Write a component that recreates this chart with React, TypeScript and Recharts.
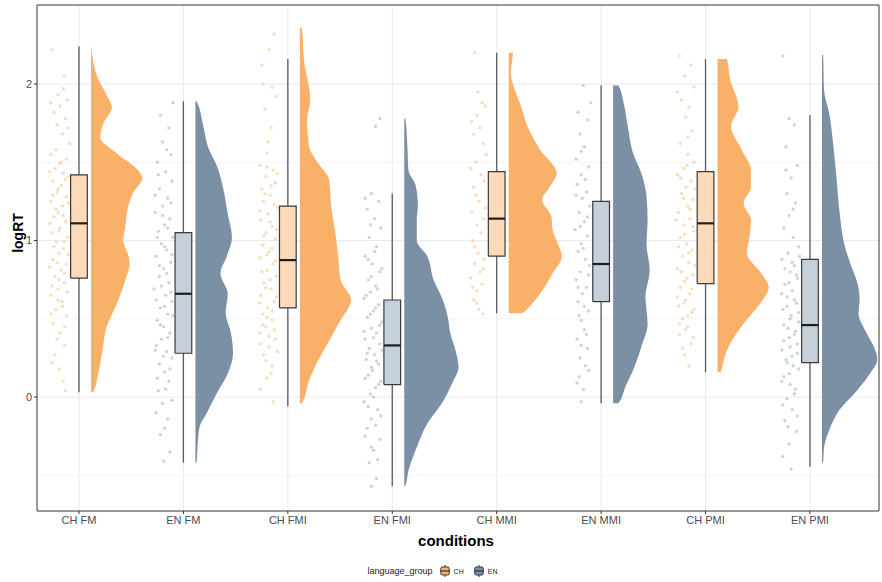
import React from "react";
import { ScatterChart, Scatter, XAxis, YAxis, CartesianGrid, ReferenceArea, Legend } from "recharts";

// conditions on the x axis and the language group of each
const conditions = ["CH FM", "EN FM", "CH FMI", "EN FMI", "CH MMI", "EN MMI", "CH PMI", "EN PMI"];
const groupOf = ["CH", "EN", "CH", "EN", "CH", "EN", "CH", "EN"];
const yTicks = [0, 1, 2];

// boxplot stats (logRT)
const whiskerLow = [0.03, -0.42, -0.06, -0.57, 0.535, -0.04, 0.16, -0.445];
const q1 = [0.76, 0.28, 0.57, 0.08, 0.9, 0.61, 0.725, 0.22];
const median = [1.11, 0.66, 0.875, 0.33, 1.14, 0.85, 1.11, 0.46];
const q3 = [1.42, 1.05, 1.22, 0.62, 1.44, 1.25, 1.44, 0.88];
const whiskerHigh = [2.24, 1.89, 2.16, 1.3, 2.2, 1.99, 2.16, 1.8];

// half violin outlines: [logRT, scaled density]
const chFmDensity = [
  [0.03, 0.02], [0.15, 0.07], [0.3, 0.11], [0.45, 0.15], [0.6, 0.25], [0.75, 0.33], [0.85, 0.37],
  [0.9, 0.36], [1.0, 0.31], [1.1, 0.33], [1.2, 0.35], [1.3, 0.4], [1.4, 0.49], [1.45, 0.45],
  [1.55, 0.26], [1.66, 0.09], [1.75, 0.12], [1.85, 0.2], [1.93, 0.15], [2.03, 0.07], [2.15, 0.02], [2.25, 0.0],
];
const enFmDensity = [
  [-0.42, 0.01], [-0.32, 0.02], [-0.19, 0.04], [-0.1, 0.11], [0.03, 0.21], [0.15, 0.31], [0.28, 0.36],
  [0.41, 0.34], [0.54, 0.29], [0.66, 0.31], [0.79, 0.24], [0.9, 0.3], [1.02, 0.35], [1.17, 0.31],
  [1.32, 0.27], [1.47, 0.21], [1.6, 0.12], [1.75, 0.07], [1.89, 0.01],
];
const chFmiDensity = [
  [-0.04, 0.02], [0.11, 0.09], [0.24, 0.18], [0.36, 0.28], [0.49, 0.39], [0.62, 0.49], [0.75, 0.39],
  [0.875, 0.37], [1.05, 0.34], [1.22, 0.3], [1.39, 0.28], [1.49, 0.18], [1.6, 0.09], [1.77, 0.07],
  [1.9, 0.1], [2.15, 0.04], [2.36, 0.02],
];
const enFmiDensity = [
  [-0.57, 0.01], [-0.47, 0.04], [-0.32, 0.12], [-0.17, 0.22], [-0.04, 0.36], [0.09, 0.46], [0.19, 0.52],
  [0.3, 0.49], [0.41, 0.44], [0.5, 0.42], [0.62, 0.37], [0.75, 0.28], [0.9, 0.22], [1.0, 0.12],
  [1.13, 0.12], [1.22, 0.13], [1.35, 0.11], [1.45, 0.04], [1.6, 0.03], [1.78, 0.01],
];
const chMmiDensity = [
  [0.535, 0.12], [0.58, 0.2], [0.66, 0.3], [0.79, 0.42], [0.9, 0.51], [0.98, 0.47], [1.07, 0.42],
  [1.15, 0.41], [1.26, 0.32], [1.34, 0.39], [1.43, 0.46], [1.58, 0.3], [1.73, 0.18], [1.855, 0.12],
  [2.0, 0.04], [2.07, 0.02], [2.2, 0.04],
];
const enMmiDensity = [
  [-0.04, 0.05], [0.07, 0.12], [0.17, 0.19], [0.32, 0.27], [0.47, 0.33], [0.64, 0.31], [0.81, 0.35],
  [0.98, 0.32], [1.13, 0.33], [1.28, 0.32], [1.43, 0.27], [1.56, 0.19], [1.73, 0.14], [1.88, 0.1], [1.99, 0.05],
];
const chPmiDensity = [
  [0.16, 0.03], [0.24, 0.06], [0.34, 0.12], [0.47, 0.25], [0.6, 0.41], [0.7, 0.49], [0.79, 0.42],
  [0.92, 0.28], [1.0, 0.3], [1.13, 0.32], [1.24, 0.25], [1.34, 0.32], [1.45, 0.32], [1.58, 0.23],
  [1.73, 0.13], [1.855, 0.2], [2.03, 0.12], [2.16, 0.09],
];
const enPmiDensity = [
  [-0.42, 0.01], [-0.32, 0.02], [-0.21, 0.07], [-0.08, 0.17], [0.045, 0.34], [0.15, 0.46], [0.24, 0.53],
  [0.3, 0.51], [0.43, 0.41], [0.53, 0.35], [0.62, 0.36], [0.725, 0.34], [0.855, 0.27], [0.96, 0.22],
  [1.17, 0.17], [1.39, 0.14], [1.6, 0.11], [1.81, 0.07], [1.96, 0.02], [2.185, 0.01],
];
const densities = [chFmDensity, enFmDensity, chFmiDensity, enFmiDensity, chMmiDensity, enMmiDensity, chPmiDensity, enPmiDensity];

// raw observations: [jitter offset, logRT]
const chFmPts = [
  [-0.26, 2.22], [-0.14, 2.05], [-0.2, 1.93], [-0.11, 1.9], [-0.18, 1.86], [-0.24, 1.82], [-0.13, 1.78], [-0.21, 1.74], [-0.16, 1.68],
  [-0.27, 1.55], [-0.12, 1.52], [-0.19, 1.49], [-0.23, 1.46], [-0.15, 1.43], [-0.1, 1.41], [-0.25, 1.38], [-0.17, 1.35], [-0.21, 1.31],
  [-0.12, 1.28], [-0.27, 1.25], [-0.16, 1.22], [-0.2, 1.18], [-0.24, 1.15], [-0.13, 1.12], [-0.18, 1.08], [-0.26, 1.05], [-0.11, 1.02],
  [-0.22, 0.99], [-0.15, 0.95], [-0.19, 0.92], [-0.25, 0.88], [-0.12, 0.85], [-0.17, 0.81], [-0.23, 0.77], [-0.14, 0.73], [-0.2, 0.69],
  [-0.27, 0.65], [-0.16, 0.61], [-0.22, 0.56], [-0.12, 0.52], [-0.25, 0.47], [-0.18, 0.41], [-0.14, 0.33], [-0.23, 0.27], [-0.19, 0.18],
  [-0.15, 0.1], [-0.13, 0.04],
  [-0.09, 1.62], [-0.22, 1.58], [-0.17, 1.5], [-0.28, 1.44], [-0.13, 1.39], [-0.2, 1.33], [-0.25, 1.29], [-0.1, 1.24], [-0.22, 1.2],
  [-0.15, 1.16], [-0.28, 1.11], [-0.19, 1.06], [-0.14, 0.99], [-0.24, 0.96], [-0.1, 0.91], [-0.21, 0.86], [-0.28, 0.83], [-0.14, 0.79],
  [-0.19, 0.75], [-0.26, 0.71], [-0.11, 0.67], [-0.2, 0.62], [-0.16, 0.58], [-0.27, 0.53], [-0.14, 0.45], [-0.21, 0.37], [-0.26, 0.22],
  [-0.1, 1.72], [-0.27, 1.88], [-0.15, 1.97],
];
const enFmPts = [
  [-0.1, 1.88], [-0.22, 1.8], [-0.14, 1.72], [-0.2, 1.63], [-0.12, 1.55], [-0.25, 1.5], [-0.17, 1.44], [-0.11, 1.38], [-0.23, 1.33],
  [-0.15, 1.27], [-0.2, 1.22], [-0.27, 1.18], [-0.13, 1.14], [-0.18, 1.1], [-0.24, 1.06], [-0.1, 1.02], [-0.21, 0.98], [-0.16, 0.94],
  [-0.26, 0.9], [-0.12, 0.86], [-0.19, 0.82], [-0.23, 0.77], [-0.14, 0.73], [-0.28, 0.69], [-0.17, 0.65], [-0.11, 0.61], [-0.22, 0.57],
  [-0.15, 0.53], [-0.25, 0.49], [-0.19, 0.45], [-0.13, 0.41], [-0.21, 0.37], [-0.26, 0.33], [-0.16, 0.29], [-0.11, 0.25], [-0.23, 0.21],
  [-0.18, 0.16], [-0.14, 0.1], [-0.24, 0.04], [-0.2, -0.04], [-0.15, -0.14], [-0.22, -0.24], [-0.13, -0.35], [-0.19, -0.41],
  [-0.27, 1.29], [-0.12, 1.24], [-0.2, 1.16], [-0.15, 1.08], [-0.25, 1.02], [-0.18, 0.96], [-0.11, 0.91], [-0.23, 0.84], [-0.16, 0.79],
  [-0.21, 0.71], [-0.12, 0.67], [-0.26, 0.62], [-0.18, 0.58], [-0.1, 0.52], [-0.22, 0.46], [-0.15, 0.38], [-0.27, 0.3], [-0.19, 0.26],
  [-0.13, 0.18], [-0.25, 0.12], [-0.17, 0.05], [-0.11, -0.02], [-0.26, -0.1], [-0.18, -0.2], [-0.24, 1.42], [-0.16, 1.58],
];
const chFmiPts = [
  [-0.13, 2.32], [-0.18, 2.22], [-0.25, 2.12], [-0.15, 1.98], [-0.11, 1.92], [-0.22, 1.84], [-0.16, 1.72], [-0.2, 1.56],
  [-0.27, 1.48], [-0.14, 1.45], [-0.21, 1.41], [-0.12, 1.37], [-0.25, 1.33], [-0.17, 1.29], [-0.23, 1.25], [-0.1, 1.21], [-0.19, 1.17],
  [-0.26, 1.13], [-0.15, 1.09], [-0.21, 1.05], [-0.12, 1.01], [-0.24, 0.97], [-0.18, 0.93], [-0.27, 0.89], [-0.14, 0.85], [-0.2, 0.81],
  [-0.11, 0.77], [-0.23, 0.73], [-0.16, 0.69], [-0.26, 0.65], [-0.13, 0.61], [-0.19, 0.57], [-0.24, 0.53], [-0.15, 0.49], [-0.21, 0.45],
  [-0.27, 0.41], [-0.12, 0.37], [-0.18, 0.32], [-0.23, 0.27], [-0.15, 0.2], [-0.2, 0.12], [-0.26, 0.05], [-0.14, -0.03],
  [-0.2, 1.47], [-0.1, 1.43], [-0.16, 1.35], [-0.22, 1.3], [-0.13, 1.23], [-0.27, 1.19], [-0.17, 1.12], [-0.11, 1.07], [-0.23, 1.03],
  [-0.15, 0.95], [-0.2, 0.91], [-0.12, 0.87], [-0.25, 0.8], [-0.17, 0.75], [-0.21, 0.7], [-0.11, 0.64], [-0.27, 0.6], [-0.15, 0.55],
  [-0.2, 0.51], [-0.24, 0.46], [-0.13, 0.43], [-0.18, 0.39], [-0.26, 0.34], [-0.1, 0.29], [-0.21, 0.23], [-0.16, 0.15], [-0.24, 2.0],
  [-0.19, 1.63],
];
const enFmiPts = [
  [-0.12, 1.78], [-0.16, 1.73], [-0.2, 1.3], [-0.13, 1.25], [-0.24, 1.2], [-0.17, 1.14], [-0.11, 1.08], [-0.22, 1.02], [-0.15, 0.96],
  [-0.26, 0.9], [-0.19, 0.85], [-0.12, 0.8], [-0.23, 0.75], [-0.16, 0.71], [-0.21, 0.67], [-0.27, 0.63], [-0.13, 0.59], [-0.18, 0.55],
  [-0.24, 0.51], [-0.1, 0.48], [-0.2, 0.44], [-0.15, 0.41], [-0.26, 0.37], [-0.12, 0.34], [-0.22, 0.31], [-0.17, 0.27], [-0.25, 0.24],
  [-0.13, 0.21], [-0.19, 0.17], [-0.23, 0.14], [-0.11, 0.1], [-0.16, 0.06], [-0.21, 0.02], [-0.27, -0.03], [-0.14, -0.08], [-0.2, -0.14],
  [-0.24, -0.2], [-0.12, -0.27], [-0.18, -0.34], [-0.22, -0.42], [-0.15, -0.52], [-0.2, -0.57],
  [-0.17, 0.93], [-0.23, 0.88], [-0.1, 0.82], [-0.2, 0.77], [-0.14, 0.69], [-0.25, 0.65], [-0.16, 0.57], [-0.21, 0.53], [-0.12, 0.46],
  [-0.27, 0.42], [-0.18, 0.38], [-0.1, 0.3], [-0.24, 0.28], [-0.15, 0.23], [-0.2, 0.19], [-0.26, 0.12], [-0.13, 0.08], [-0.18, 0.0],
  [-0.23, -0.06], [-0.11, -0.12], [-0.16, -0.18], [-0.26, -0.25], [-0.2, -0.32], [-0.14, -0.4], [-0.21, 1.1], [-0.26, 1.27],
];
const chMmiPts = [
  [-0.21, 2.2], [-0.14, 1.88], [-0.11, 1.86], [-0.19, 1.8], [-0.24, 1.76], [-0.16, 1.72], [-0.22, 1.68], [-0.13, 1.62],
  [-0.2, 1.5], [-0.25, 1.46], [-0.15, 1.42], [-0.12, 1.38], [-0.22, 1.34], [-0.17, 1.25], [-0.24, 1.18], [-0.13, 1.14], [-0.19, 1.1],
  [-0.15, 1.05], [-0.23, 1.0], [-0.18, 0.92], [-0.12, 0.88], [-0.21, 0.85], [-0.16, 0.8], [-0.25, 0.76], [-0.14, 0.72], [-0.19, 0.68],
  [-0.22, 0.62], [-0.17, 0.56], [-0.13, 0.53],
  [-0.18, 1.95], [-0.1, 1.55], [-0.2, 1.29], [-0.11, 1.21], [-0.21, 0.96], [-0.13, 0.82], [-0.23, 0.7], [-0.19, 0.6],
];
const enMmiPts = [
  [-0.17, 1.99], [-0.22, 1.82], [-0.13, 1.77], [-0.2, 1.68], [-0.16, 1.6], [-0.24, 1.52], [-0.12, 1.47], [-0.19, 1.42], [-0.23, 1.36],
  [-0.14, 1.31], [-0.18, 1.27], [-0.11, 1.22], [-0.21, 1.18], [-0.16, 1.12], [-0.25, 1.07], [-0.13, 1.03], [-0.19, 0.98], [-0.22, 0.93],
  [-0.15, 0.88], [-0.11, 0.84], [-0.2, 0.8], [-0.24, 0.75], [-0.14, 0.7], [-0.18, 0.66], [-0.22, 0.61], [-0.12, 0.55], [-0.19, 0.49],
  [-0.16, 0.43], [-0.23, 0.37], [-0.13, 0.31], [-0.2, 0.25], [-0.15, 0.2], [-0.21, 0.13], [-0.17, 0.05], [-0.19, -0.03],
  [-0.1, 1.88], [-0.19, 1.57], [-0.15, 1.39], [-0.24, 1.29], [-0.13, 1.15], [-0.2, 1.09], [-0.17, 0.95], [-0.12, 0.78], [-0.22, 0.7],
  [-0.16, 0.58], [-0.21, 0.52], [-0.14, 0.4], [-0.19, 0.33], [-0.12, 0.17], [-0.23, 0.09],
];
const chPmiPts = [
  [-0.25, 2.18], [-0.14, 2.12], [-0.2, 2.05], [-0.11, 1.98], [-0.23, 1.9], [-0.16, 1.85], [-0.19, 1.79], [-0.13, 1.7], [-0.24, 1.62],
  [-0.17, 1.55], [-0.11, 1.5], [-0.21, 1.46], [-0.27, 1.42], [-0.14, 1.38], [-0.19, 1.34], [-0.23, 1.3], [-0.12, 1.26], [-0.17, 1.22],
  [-0.26, 1.18], [-0.15, 1.14], [-0.21, 1.1], [-0.11, 1.06], [-0.24, 1.02], [-0.18, 0.98], [-0.13, 0.94], [-0.22, 0.9], [-0.16, 0.86],
  [-0.27, 0.82], [-0.12, 0.78], [-0.2, 0.74], [-0.24, 0.7], [-0.15, 0.66], [-0.19, 0.62], [-0.26, 0.58], [-0.13, 0.54], [-0.22, 0.5],
  [-0.17, 0.45], [-0.25, 0.4], [-0.14, 0.34], [-0.2, 0.27], [-0.16, 0.2],
  [-0.18, 1.48], [-0.24, 1.4], [-0.1, 1.33], [-0.21, 1.27], [-0.15, 1.2], [-0.28, 1.13], [-0.12, 1.09], [-0.2, 1.04], [-0.26, 0.96],
  [-0.16, 0.92], [-0.1, 0.84], [-0.23, 0.8], [-0.18, 0.76], [-0.13, 0.69], [-0.27, 0.64], [-0.21, 0.6], [-0.11, 0.56], [-0.17, 0.52],
  [-0.25, 0.47], [-0.19, 0.43], [-0.12, 0.38], [-0.22, 0.31], [-0.27, 1.95], [-0.17, 1.66],
];
const enPmiPts = [
  [-0.26, 2.18], [-0.2, 1.78], [-0.15, 1.74], [-0.23, 1.6], [-0.12, 1.48], [-0.18, 1.4], [-0.22, 1.3], [-0.14, 1.24], [-0.2, 1.16],
  [-0.25, 1.08], [-0.16, 1.02], [-0.11, 0.96], [-0.21, 0.92], [-0.27, 0.88], [-0.15, 0.84], [-0.19, 0.8], [-0.12, 0.76], [-0.24, 0.72],
  [-0.17, 0.68], [-0.22, 0.64], [-0.13, 0.6], [-0.26, 0.56], [-0.18, 0.52], [-0.11, 0.48], [-0.21, 0.44], [-0.15, 0.4], [-0.25, 0.36],
  [-0.19, 0.32], [-0.12, 0.28], [-0.23, 0.24], [-0.16, 0.2], [-0.2, 0.15], [-0.27, 0.1], [-0.14, 0.05], [-0.22, -0.01], [-0.17, -0.08],
  [-0.24, -0.15], [-0.13, -0.22], [-0.2, -0.3], [-0.26, -0.38], [-0.18, -0.46],
  [-0.1, 0.9], [-0.17, 0.86], [-0.24, 0.82], [-0.13, 0.78], [-0.2, 0.73], [-0.27, 0.66], [-0.15, 0.62], [-0.22, 0.58], [-0.11, 0.54],
  [-0.19, 0.5], [-0.25, 0.46], [-0.14, 0.42], [-0.2, 0.38], [-0.12, 0.34], [-0.27, 0.3], [-0.17, 0.26], [-0.22, 0.22], [-0.11, 0.18],
  [-0.25, 0.13], [-0.19, 0.08], [-0.15, 0.02], [-0.26, -0.05], [-0.12, -0.12], [-0.21, -0.19], [-0.16, 1.2], [-0.23, 1.45],
];
const rawPoints = [chFmPts, enFmPts, chFmiPts, enFmiPts, chMmiPts, enMmiPts, chPmiPts, enPmiPts];

const COLORS: Record<string, { violin: string; box: string; point: string }> = {
  CH: { violin: "#f9b068", box: "#fcdab9", point: "#f5a75c" },
  EN: { violin: "#7b8fa5", box: "#c6d0db", point: "#7f93a9" },
};
const FONT = '"Liberation Sans", Arial, Helvetica, sans-serif';
const W = 882;
const H = 582;
const VIOLIN_GAP = 0.115;
const BOX_HALF = 0.08;

const Empty = () => <g />;

const dotShape = (color: string) => (p: any) => (
  <circle cx={p.cx} cy={p.cy} r={1.7} fill={color} fillOpacity={0.4} />
);

function violinPts(i: number) {
  const base = i + 1 + VIOLIN_GAP;
  const d = [...densities[i]].sort((a, b) => a[0] - b[0]);
  return [
    { x: base, y: d[0][0] },
    ...d.map(([y, w]) => ({ x: base + w, y })),
    { x: base, y: d[d.length - 1][0] },
  ];
}

function boxPts(i: number) {
  const c = i + 1;
  return [
    { x: c - BOX_HALF, y: q1[i] },
    { x: c + BOX_HALF, y: q1[i] },
    { x: c + BOX_HALF, y: q3[i] },
    { x: c - BOX_HALF, y: q3[i] },
    { x: c - BOX_HALF, y: q1[i] },
  ];
}

function XTitle(props: any) {
  const vb = props.viewBox || { x: 37, y: 511, width: 842, height: 41 };
  return (
    <text x={vb.x + vb.width / 2 - 2} y={vb.y + 35} textAnchor="middle" fontFamily={FONT} fontSize={15} fontWeight="bold" fill="#000">
      conditions
    </text>
  );
}

function YTitle(props: any) {
  const vb = props.viewBox || { x: 0, y: 5, width: 37, height: 506 };
  const x = vb.x + 18;
  const y = vb.y + 228;
  return (
    <text x={x} y={y} transform={`rotate(-90, ${x}, ${y})`} textAnchor="middle" dominantBaseline="central" fontFamily={FONT} fontSize={14} fontWeight="bold" fill="#000">
      logRT
    </text>
  );
}

function KeyIcon({ fill }: { fill: string }) {
  return (
    <svg width={10} height={12} style={{ display: "block" }}>
      <line x1={5} y1={0} x2={5} y2={12} stroke="#333" strokeWidth={1} />
      <rect x={0.75} y={2} width={8.5} height={8} rx={1.5} fill={fill} stroke="#333" strokeWidth={1} />
      <line x1={0.75} y1={6} x2={9.25} y2={6} stroke="#333" strokeWidth={1.2} />
    </svg>
  );
}

const LegendContent = () => (
  <div style={{ display: "flex", alignItems: "center", justifyContent: "center", height: 30, paddingTop: 4, paddingRight: 14, fontFamily: FONT, color: "#222" }}>
    <span style={{ fontSize: 9, marginRight: 7 }}>language_group</span>
    <KeyIcon fill={COLORS.CH.violin} />
    <span style={{ fontSize: 7, margin: "0 10px 0 4px" }}>CH</span>
    <KeyIcon fill={COLORS.EN.violin} />
    <span style={{ fontSize: 7, marginLeft: 4 }}>EN</span>
  </div>
);

export default function App() {
  const xTicks = conditions.map((_, i) => i + 1);
  return (
    <div style={{ position: "absolute", left: 0, top: 0, width: W, height: H, background: "#fff" }}>
      <ScatterChart width={W} height={H} margin={{ top: 5, right: 3, bottom: 0, left: 0 }}>
        <CartesianGrid horizontalValues={[-0.5, 0.5, 1.5]} vertical={false} stroke="#f3f3f3" />
        <CartesianGrid horizontalValues={yTicks} verticalValues={xTicks} stroke="#e9e9e9" />
        <XAxis
          type="number"
          dataKey="x"
          domain={[0.598, 8.661]}
          ticks={xTicks}
          interval={0}
          allowDataOverflow
          tickFormatter={(v: number) => conditions[v - 1]}
          axisLine={false}
          tickSize={3}
          tickLine={{ stroke: "#333" }}
          tick={{ fontSize: 11, fill: "#4d4d4d", fontFamily: FONT }}
          height={41}
          label={<XTitle />}
        />
        <YAxis
          type="number"
          dataKey="y"
          domain={[-0.728, 2.505]}
          ticks={yTicks}
          allowDataOverflow
          axisLine={false}
          tickSize={3}
          tickLine={{ stroke: "#333" }}
          tick={{ fontSize: 11, fill: "#4d4d4d", fontFamily: FONT }}
          width={37}
          label={<YTitle />}
        />
        <Legend verticalAlign="bottom" height={30} content={<LegendContent />} />
        {conditions.map((c, i) => (
          <Scatter
            key={"violin-" + c}
            data={violinPts(i)}
            line={{ fill: COLORS[groupOf[i]].violin, stroke: "none" }}
            lineJointType="monotoneY"
            shape={Empty}
            legendType="none"
            isAnimationActive={false}
          />
        ))}
        {conditions.map((c, i) => (
          <Scatter
            key={"whisker-" + c}
            data={[{ x: i + 1, y: whiskerLow[i] }, { x: i + 1, y: whiskerHigh[i] }]}
            line={{ stroke: "#5a5a5a", strokeWidth: 1.3 }}
            shape={Empty}
            legendType="none"
            isAnimationActive={false}
          />
        ))}
        {conditions.map((c, i) => (
          <Scatter
            key={"box-" + c}
            data={boxPts(i)}
            line={{ fill: COLORS[groupOf[i]].box, stroke: "#3a3a3a", strokeWidth: 1.2, strokeLinejoin: "miter" }}
            shape={Empty}
            legendType="none"
            isAnimationActive={false}
          />
        ))}
        {conditions.map((c, i) => (
          <Scatter
            key={"median-" + c}
            data={[{ x: i + 1 - BOX_HALF, y: median[i] }, { x: i + 1 + BOX_HALF, y: median[i] }]}
            line={{ stroke: "#1e1e1e", strokeWidth: 2.2 }}
            shape={Empty}
            legendType="none"
            isAnimationActive={false}
          />
        ))}
        {conditions.map((c, i) => (
          <Scatter
            key={"points-" + c}
            data={rawPoints[i].map(([dx, y]) => ({ x: i + 1 + dx, y }))}
            shape={dotShape(COLORS[groupOf[i]].point)}
            legendType="none"
            isAnimationActive={false}
          />
        ))}
        <ReferenceArea x1={0.598} x2={8.661} y1={-0.728} y2={2.505} fill="none" stroke="#333" strokeWidth={1} ifOverflow="visible" />
      </ScatterChart>
    </div>
  );
}
